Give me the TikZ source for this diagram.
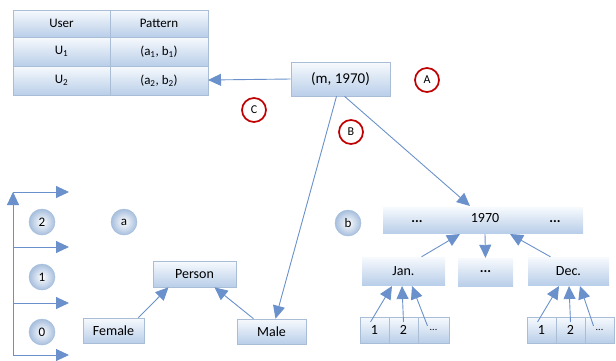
\documentclass[tikz,border=0pt]{standalone}
\usepackage{fontspec}
\setmainfont{Carlito}
\usetikzlibrary{arrows.meta}
\definecolor{boxtop}{HTML}{F7FAFD}
\definecolor{boxbot}{HTML}{B9CEE9}
\definecolor{boxline}{HTML}{A9BDD6}
\definecolor{arrowc}{HTML}{6A91CB}
\definecolor{ringred}{HTML}{C00000}
\definecolor{balledge}{HTML}{A6BEDD}
\tikzset{
  cellbox/.style={draw=boxline, line width=0.6pt, top color=boxtop, bottom color=boxbot,
    inner sep=0pt, font=\fontsize{14}{16}\selectfont},
  flatrow/.style={top color=boxtop, bottom color=boxbot, draw=none, inner sep=0pt,
    font=\fontsize{14}{16}\selectfont},
  link/.style={draw=arrowc, line width=0.9pt, -{Triangle[length=13pt,width=12pt]}},
  plainlink/.style={draw=arrowc, line width=0.9pt},
  ring/.style={circle, draw=ringred, line width=1.7pt, fill=white, minimum size=24pt,
    inner sep=0pt, font=\fontsize{12}{14}\selectfont},
  ball/.style={circle, draw=balledge, line width=0.5pt, inner color=white, outer color=balledge,
    minimum size=26pt, inner sep=0pt, font=\fontsize{13}{15}\selectfont},
}
\newcommand{\cellat}[7]{% name, x1, y1, x2, y2, font size, text
  \path[cellbox] (#2,#3) rectangle (#4,#5);
  \node[font=\fontsize{#6}{#6}\selectfont] (#1) at ({(#2+#4)/2},{(#3+#5)/2}) {#7};
}
\begin{document}
\begin{tikzpicture}[x=1pt,y=-1pt]
\useasboundingbox (0,0) rectangle (616,360);

% user / pattern table
\cellat{hu}{13}{10}{110}{37}{13}{User}
\cellat{hp}{110}{10}{208}{37}{13}{Pattern}
\cellat{u1}{13}{37}{110}{66}{13}{U\textsubscript{1}}
\cellat{p1}{110}{37}{208}{66}{13}{(a\textsubscript{1}, b\textsubscript{1})}
\cellat{u2}{13}{66}{110}{95}{13}{U\textsubscript{2}}
\cellat{p2}{110}{66}{208}{95}{13}{(a\textsubscript{2}, b\textsubscript{2})}
\coordinate (tabin) at (208,80);

% query node
\node[cellbox, minimum width=99pt, minimum height=34pt, font=\fontsize{15}{17}\selectfont]
  (q) at (340.5,79) {(m, 1970)};

% labels
\node[ring] (A) at (427,80) {A};
\node[ring] (B) at (351,132) {B};
\node[ring] (C) at (254,110) {C};

% level axis
\coordinate (ax0) at (13,355);
\coordinate (ax1) at (13,303);
\coordinate (ax2) at (13,247);
\coordinate (ax3) at (13,192);
\coordinate (ax3e) at (69,192);
\coordinate (ax2e) at (69,247);
\coordinate (ax1e) at (69,303);
\coordinate (ax0e) at (69,355);
\draw[link] (ax0) -- (13,192);
\draw[link] (ax3) -- (ax3e);
\draw[link] (ax2) -- (ax2e);
\draw[link] (ax1) -- (ax1e);
\draw[link] (ax0) -- (ax0e);
\node[ball] (l2) at (42,222) {2};
\node[ball] (l1) at (42,277) {1};
\node[ball] (l0) at (42,332) {0};
\node[ball] (la) at (124,222) {a};
\node[ball] (lb) at (348,223) {b};

% person hierarchy
\node[cellbox, minimum width=83pt, minimum height=26pt] (person) at (194.5,274) {Person};
\node[cellbox, minimum width=61pt, minimum height=25pt] (female) at (113.5,330.5) {Female};
\node[cellbox, minimum width=69pt, minimum height=25pt] (male) at (271.5,331.5) {Male};

% time hierarchy
\path[flatrow] (383,207) rectangle (583,233);
\node[font=\fontsize{14}{16}\selectfont] (ydots1) at (417,222) {\textbf{...}};
\node[font=\fontsize{14}{16}\selectfont] (year) at (485,218) {1970};
\node[font=\fontsize{14}{16}\selectfont] (ydots2) at (555,222) {\textbf{...}};
\coordinate (yeartop) at (470,206);
\node[flatrow, minimum width=83pt, minimum height=28pt] (jan) at (403.5,271) {Jan.};
\node[flatrow, minimum width=55pt, minimum height=28pt] (mdots) at (485.5,272) {\textbf{...}};
\node[flatrow, minimum width=81pt, minimum height=28pt] (dec) at (568.5,271) {Dec.};

% days
\cellat{j1}{360}{317}{389}{343}{14}{1}
\cellat{j2}{389}{317}{418}{343}{14}{2}
\cellat{j3}{418}{317}{449}{343}{10}{...}
\cellat{d1}{527}{317}{556}{343}{14}{1}
\cellat{d2}{556}{317}{585}{343}{14}{2}
\cellat{d3}{585}{317}{614}{343}{10}{...}

% connectors
\draw[link] (q.west) -- (tabin);
\draw[link] ([xshift=-4pt]q.south) -- ([xshift=4pt]male.north);
\draw[link] ([xshift=4pt]q.south) -- (yeartop);
\draw[link] ([xshift=-6pt]female.north east) -- ([xshift=-26pt]person.south);
\draw[link] ([xshift=-18pt]male.north) -- ([xshift=20pt]person.south);
\draw[link] ([xshift=18pt]jan.north) -- (460,234);
\draw[link] (485,234) -- (mdots.north);
\draw[link] ([xshift=-18pt]dec.north) -- (510,234);
\draw[link] ([xshift=-4pt]j1.north) -- (392,286);
\draw[link] (j2.north) -- (402,286);
\draw[link] ([xshift=-6pt]j3.north) -- (412,286);
\draw[link] ([xshift=-4pt]d1.north) -- (559,286);
\draw[link] (d2.north) -- (569,286);
\draw[link] ([xshift=-6pt]d3.north) -- (580,286);
\end{tikzpicture}
\end{document}
